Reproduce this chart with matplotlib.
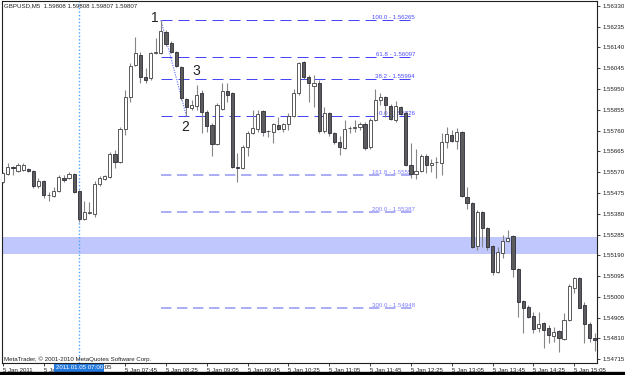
import numpy as np
import matplotlib
matplotlib.use("Agg")
import matplotlib.pyplot as plt
from matplotlib import transforms
from matplotlib.patches import Rectangle

plt.rcParams['font.family'] = ['Liberation Sans', 'DejaVu Sans']

#------------------------------------------------------------------------------
# GBPUSD M5 bars, 5 Jan 2011 05:45 -> 15:25
#------------------------------------------------------------------------------
opens = [1.55525, 1.55562, 1.55594, 1.55576, 1.55580, 1.55585, 1.55576, 1.55507, 1.55530, 1.55466,
         1.55461, 1.55484, 1.55543, 1.55543, 1.55562, 1.55484, 1.55356, 1.55384, 1.55379, 1.55516,
         1.55539, 1.55548, 1.55653, 1.55617, 1.55767, 1.55914, 1.56060, 1.56106, 1.56005, 1.56001,
         1.56115, 1.56115, 1.56211, 1.56161, 1.56119, 1.56051, 1.55905, 1.55863, 1.55873, 1.55932,
         1.55845, 1.55786, 1.55699, 1.55859, 1.55941, 1.55932, 1.55594, 1.55589, 1.55685, 1.55749,
         1.55767, 1.55850, 1.55758, 1.55754, 1.55786, 1.55767, 1.55790, 1.55827, 1.55932, 1.56074,
         1.56005, 1.55964, 1.55978, 1.55758, 1.55841, 1.55749, 1.55708, 1.55681, 1.55772, 1.55772,
         1.55777, 1.55790, 1.55685, 1.55809, 1.55900, 1.55914, 1.55873, 1.55809, 1.55868, 1.55841,
         1.55603, 1.55562, 1.55576, 1.55644, 1.55603, 1.55617, 1.55612, 1.55708, 1.55740, 1.55713,
         1.55754, 1.55457, 1.55429, 1.55233, 1.55388, 1.55315, 1.55233, 1.55114, 1.55201, 1.55256,
         1.55278, 1.55128, 1.54981, 1.54954, 1.54913, 1.54858, 1.54881, 1.54858, 1.54821, 1.54844,
         1.54808, 1.54895, 1.55041, 1.55086, 1.54963, 1.54876, 1.54812]
highs = [1.55571, 1.55612, 1.55598, 1.55612, 1.55612, 1.55589, 1.55580, 1.55544, 1.55534, 1.55480,
         1.55502, 1.55557, 1.55557, 1.55571, 1.55566, 1.55489, 1.55438, 1.55434, 1.55530, 1.55553,
         1.55557, 1.55662, 1.55671, 1.55777, 1.55946, 1.56069, 1.56188, 1.56119, 1.56046, 1.56119,
         1.56183, 1.56265, 1.56220, 1.56170, 1.56124, 1.56055, 1.55909, 1.55900, 1.55969, 1.55946,
         1.55854, 1.55795, 1.55886, 1.55978, 1.55978, 1.55937, 1.55658, 1.55694, 1.55758, 1.55854,
         1.55854, 1.55854, 1.55763, 1.55795, 1.55822, 1.55795, 1.55841, 1.55950, 1.56074, 1.56078,
         1.56014, 1.56014, 1.55991, 1.55868, 1.55845, 1.55754, 1.55735, 1.55809, 1.55781, 1.55809,
         1.55800, 1.55800, 1.55818, 1.55950, 1.55932, 1.55918, 1.55882, 1.55895, 1.55873, 1.55850,
         1.55703, 1.55676, 1.55653, 1.55653, 1.55630, 1.55640, 1.55749, 1.55777, 1.55763, 1.55772,
         1.55758, 1.55502, 1.55434, 1.55397, 1.55393, 1.55320, 1.55237, 1.55228, 1.55283, 1.55306,
         1.55283, 1.55132, 1.54986, 1.54963, 1.54931, 1.54931, 1.54885, 1.54872, 1.54863, 1.54849,
         1.54927, 1.55059, 1.55091, 1.55091, 1.54977, 1.54885, 1.54835]
lows = [1.55521, 1.55557, 1.55557, 1.55571, 1.55576, 1.55571, 1.55498, 1.55498, 1.55452, 1.55438,
        1.55457, 1.55480, 1.55525, 1.55539, 1.55475, 1.55342, 1.55352, 1.55379, 1.55365, 1.55507,
        1.55534, 1.55543, 1.55589, 1.55612, 1.55740, 1.55891, 1.56055, 1.55978, 1.55978, 1.55991,
        1.56110, 1.56110, 1.56147, 1.56115, 1.56051, 1.55900, 1.55826, 1.55854, 1.55854, 1.55749,
        1.55754, 1.55644, 1.55694, 1.55854, 1.55891, 1.55589, 1.55525, 1.55585, 1.55644, 1.55745,
        1.55754, 1.55735, 1.55731, 1.55703, 1.55763, 1.55754, 1.55763, 1.55822, 1.55923, 1.55996,
        1.55891, 1.55868, 1.55749, 1.55749, 1.55735, 1.55699, 1.55649, 1.55676, 1.55749, 1.55754,
        1.55763, 1.55671, 1.55676, 1.55804, 1.55877, 1.55822, 1.55809, 1.55800, 1.55832, 1.55598,
        1.55543, 1.55539, 1.55571, 1.55566, 1.55571, 1.55543, 1.55557, 1.55681, 1.55708, 1.55676,
        1.55457, 1.55402, 1.55224, 1.55214, 1.55228, 1.55214, 1.55100, 1.55109, 1.55178, 1.55251,
        1.55091, 1.54908, 1.54835, 1.54904, 1.54835, 1.54840, 1.54767, 1.54790, 1.54794, 1.54748,
        1.54803, 1.54890, 1.55018, 1.54949, 1.54790, 1.54794, 1.54753]
closes = [1.55566, 1.55594, 1.55589, 1.55603, 1.55603, 1.55576, 1.55507, 1.55530, 1.55466, 1.55466,
          1.55484, 1.55548, 1.55534, 1.55562, 1.55480, 1.55356, 1.55388, 1.55388, 1.55516, 1.55543,
          1.55553, 1.55653, 1.55617, 1.55767, 1.55914, 1.56055, 1.56115, 1.56005, 1.55991, 1.56115,
          1.56119, 1.56215, 1.56156, 1.56119, 1.56055, 1.55909, 1.55868, 1.55877, 1.55923, 1.55845,
          1.55781, 1.55699, 1.55877, 1.55941, 1.55923, 1.55594, 1.55589, 1.55685, 1.55749, 1.55772,
          1.55836, 1.55754, 1.55758, 1.55790, 1.55767, 1.55790, 1.55827, 1.55932, 1.56069, 1.56005,
          1.55978, 1.55978, 1.55758, 1.55841, 1.55749, 1.55708, 1.55685, 1.55767, 1.55772, 1.55777,
          1.55790, 1.55681, 1.55809, 1.55900, 1.55914, 1.55877, 1.55813, 1.55873, 1.55836, 1.55603,
          1.55562, 1.55576, 1.55644, 1.55603, 1.55612, 1.55617, 1.55708, 1.55745, 1.55713, 1.55754,
          1.55461, 1.55429, 1.55228, 1.55388, 1.55315, 1.55228, 1.55114, 1.55205, 1.55256, 1.55269,
          1.55128, 1.54977, 1.54949, 1.54908, 1.54853, 1.54876, 1.54849, 1.54826, 1.54840, 1.54812,
          1.54895, 1.55050, 1.55086, 1.54949, 1.54876, 1.54812, 1.54803]

# bottom labels; the two behind the cursor box only show in part
time_labels = ['5 Jan 2011', '5 Ja', '', '5 Jan 07:45', '5 Jan 08:25',
               '5 Jan 09:05', '5 Jan 09:45', '5 Jan 10:25', '5 Jan 11:05', '5 Jan 11:45',
               '5 Jan 12:25', '5 Jan 13:05', '5 Jan 13:45', '5 Jan 14:25', '5 Jan 15:05']
label_step = 8  # one label every 40 min
hidden_tail = ':05'   # end of "5 Jan 07:05", right of the box
hidden_tail_bar = 19.75

price_ticks = [1.56330, 1.56235, 1.56140, 1.56045, 1.55950, 1.55855, 1.55760, 1.55665, 1.55570,
               1.55475, 1.55380, 1.55285, 1.55190, 1.55095, 1.55000, 1.54905, 1.54810, 1.54715]

# Fibo expansion levels
fib_levels = ['100.0', '61.8', '38.2', '0.0', '161.8', '200.0', '300.0']
fib_prices = [1.56265, 1.56097, 1.55994, 1.55826, 1.55555, 1.55387, 1.54948]
fib_start, fib_end = 31, 80.8

band_lo, band_hi = 1.55196, 1.55274   # highlighted zone
cursor_bar = 15                       # 2011.01.05 07:00
swing_bars = [31, 36]
swing_prices = [1.56265, 1.55826]
marks = ['1', '3', '2']
mark_x = [29.75, 37.9, 35.8]
mark_y = [1.56275, 1.56032, 1.55777]

#------------------------------------------------------------------------------
# Figure
#------------------------------------------------------------------------------
W, H = 625, 375
fig = plt.figure(figsize=(W/100, H/100), dpi=100)
fig.patch.set_facecolor('white')
ax = fig.add_axes([2/W, 12/H, 595/W, 362/H])
ax.set_facecolor('white')

x = np.arange(len(opens))
o = np.array(opens); h = np.array(highs); l = np.array(lows); c = np.array(closes)

ax.set_xlim(-0.14, 116.46)
ax.set_ylim(1.54698, 1.56352)

ax.axhspan(band_lo, band_hi, color='#c0c7fc', lw=0, zorder=0)
ax.axvline(cursor_bar, color='#4da3ff', ls=(0, (1, 1.5)), lw=1.0, zorder=1)

# fib lines + labels (drawn under the candles)
px = 0.72
for i, (lvl, p) in enumerate(zip(fib_levels, fib_prices)):
    if i < 4:
        col, lw, tcol = '#4646f5', 1.0*px, '#4b4bff'
        dash = (11, 6)
    else:
        col, lw, tcol = '#9a9af2', 1.6*px, '#7f7fff'
        dash = (6.5, 3.5)
    ax.plot([fib_start, fib_end], [p, p], color=col, lw=lw, dashes=dash, zorder=1)
    ax.text(fib_end, p, '%s - %.5f' % (lvl, p), ha='right', va='bottom',
            fontsize=4.4, color=tcol, zorder=1)

ax.plot(swing_bars, swing_prices, color='#5b6bff', ls=(0, (1, 1.2)), lw=0.8, zorder=2)

# candles
up = c >= o
ax.vlines(x, l, h, color='#858585', lw=0.8, zorder=3)
body_lo = np.minimum(o, c)
body_h = np.maximum(np.abs(c - o), 0.000012)
ax.bar(x[up], body_h[up], bottom=body_lo[up], width=0.62, color='white',
       edgecolor='#404040', lw=0.6, zorder=4)
ax.bar(x[~up], body_h[~up], bottom=body_lo[~up], width=0.62, color='#5c5c5c',
       edgecolor='#2c2c38', lw=0.6, zorder=4)

for m, mx, my in zip(marks, mark_x, mark_y):
    ax.text(mx, my, m, ha='center', va='center', fontsize=10, color='#222222', zorder=6)

# axes / ticks
for s in ax.spines.values():
    s.set_color('#202020')
    s.set_linewidth(0.8)

ax.yaxis.tick_right()
ax.set_yticks(price_ticks)
ax.set_yticklabels(['%.5f' % p for p in price_ticks])
ax.tick_params(axis='y', right=True, left=False, length=2.5, width=0.6,
               labelsize=4.4, pad=1.5, colors='#202020')

ax.set_xticks(x[::label_step][:len(time_labels)])
ax.set_xticklabels(time_labels, ha='left')
ax.tick_params(axis='x', bottom=True, length=2.5, width=0.6, labelsize=4.4,
               pad=1.0, colors='#202020')

trans = transforms.blended_transform_factory(ax.transData, ax.transAxes)
ax.text(cursor_bar, -0.0135, '2011.01.05 07:00', transform=trans, ha='center',
        va='center', fontsize=4.4, color='white', zorder=10, clip_on=False,
        bbox=dict(boxstyle='square,pad=0.25', fc='#2679dc', ec='none'))
ax.text(hidden_tail_bar, -0.0135, hidden_tail, transform=trans, ha='left',
        va='center', fontsize=4.4, color='#202020', clip_on=False)

fig.text(4/W, 1 - 5.5/H, 'GBPUSD,M5  1.59808 1.59808 1.59807 1.59807',
         fontsize=4.4, color='#202020', va='center', ha='left')
fig.text(4/W, 1 - 359/H, 'MetaTrader, \u00a9 2001-2010 MetaQuotes Software Corp.',
         fontsize=4.4, color='#202020', va='center', ha='left')

fig.patches.append(Rectangle((0, 0), 1, 3/H, transform=fig.transFigure,
                             color='black', zorder=0))

fig.savefig('out.png', dpi=100)
